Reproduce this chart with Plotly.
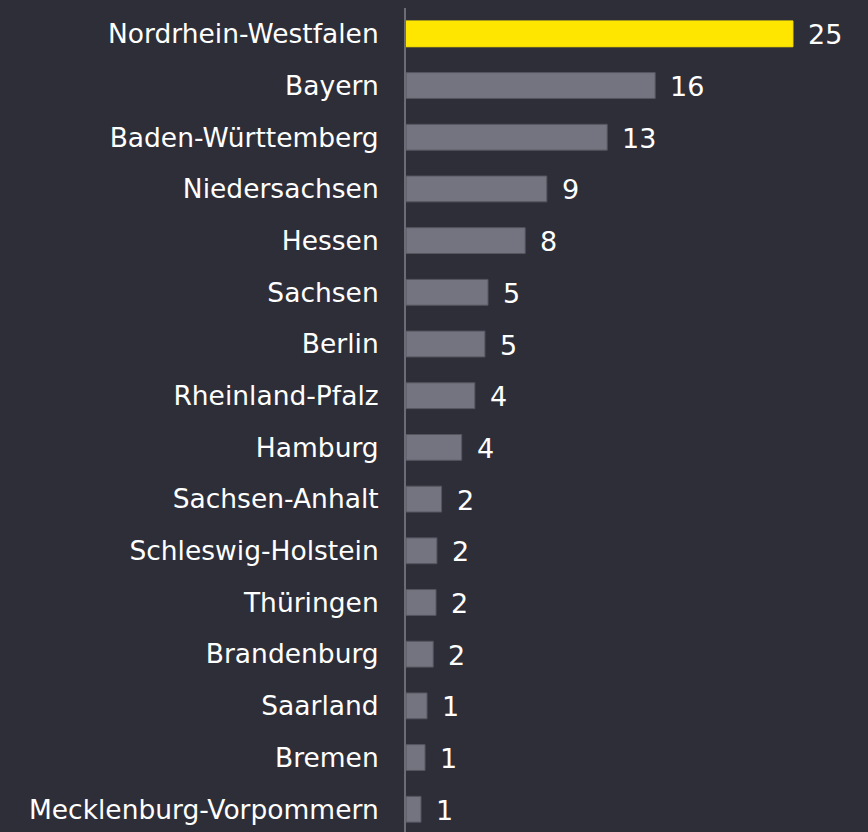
import plotly.graph_objects as go

states = ["Nordrhein-Westfalen", "Bayern", "Baden-Württemberg", "Niedersachsen", "Hessen",
          "Sachsen", "Berlin", "Rheinland-Pfalz", "Hamburg", "Sachsen-Anhalt",
          "Schleswig-Holstein", "Thüringen", "Brandenburg", "Saarland", "Bremen",
          "Mecklenburg-Vorpommern"]
values = [25.0, 16.1, 13.0, 9.1, 7.7, 5.3, 5.1, 4.45, 3.6, 2.3, 2.0, 1.94, 1.76, 1.36, 1.23, 0.97]
value_labels = ["25", "16", "13", "9", "8", "5", "5", "4", "4", "2", "2", "2", "2", "1", "1", "1"]

colors = ["#ffe600"] + ["#747480"] * (len(states) - 1)
line_colors = ["#ffe600"] + ["#55555f"] * (len(states) - 1)

fig = go.Figure(go.Bar(
    x=values, y=states, orientation="h",
    marker=dict(color=colors, line=dict(color=line_colors, width=1)),
    width=0.5, hoverinfo="skip",
))

for s, v, t in zip(states, values, value_labels):
    fig.add_annotation(x=v, y=s, text=t, showarrow=False, xanchor="left",
                       xshift=13, yshift=-1,
                       font=dict(family="DejaVu Sans", size=27, color="#ffffff"))

fig.update_layout(
    width=868, height=832,
    paper_bgcolor="#2e2e38", plot_bgcolor="#2e2e38",
    margin=dict(l=406, r=0, t=8, b=0),
    showlegend=False,
    xaxis=dict(range=[0, 29.85], visible=False),
    yaxis=dict(range=[15.44, -0.5], showline=True, linecolor="#6c6c78", linewidth=2,
               showgrid=False, zeroline=False, ticks="", ticklabelstandoff=20,
               tickfont=dict(family="DejaVu Sans", size=26.5, color="#ffffff")),
)

fig.write_html("out.html", config={"displayModeBar": False},
               post_script="document.body.style.margin='0';document.body.style.background='#2e2e38';")
